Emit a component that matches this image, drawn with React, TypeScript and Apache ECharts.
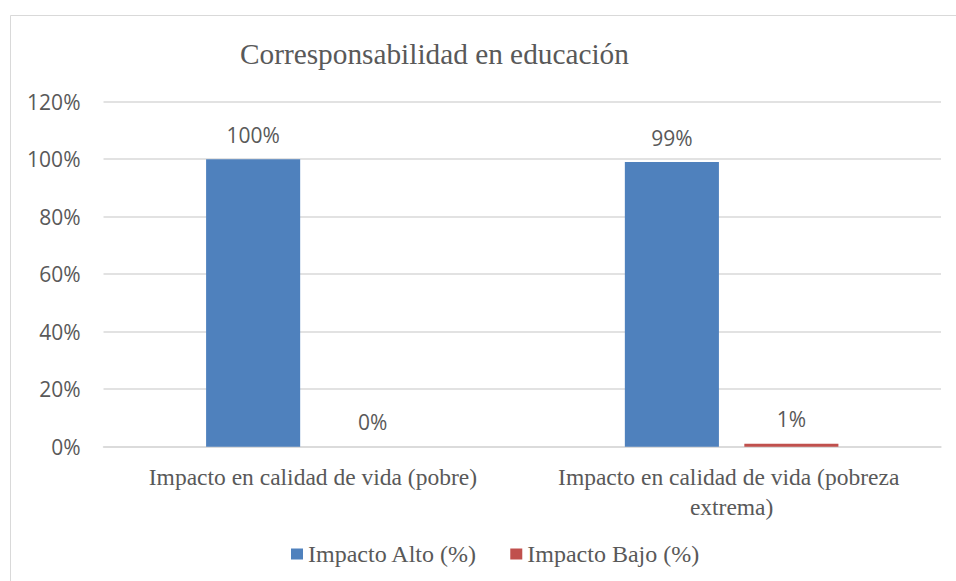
import React, { useEffect, useRef } from "react";
import * as echarts from "echarts";

const categories = [
  "Impacto en calidad de vida (pobre)",
  "Impacto en calidad de vida (pobreza extrema)",
];
const seriesNames = ["Impacto Alto (%)", "Impacto Bajo (%)"];
const altoValues = [1.0, 0.99];
const bajoValues = [0.0, 0.01];
const yTicks = { min: 0, max: 1.2, interval: 0.2 };
const titleText = "Corresponsabilidad en educación";

const SERIF = "'Times New Roman', 'Liberation Serif', 'DejaVu Serif', serif";
const SANS = "'Open Sans', 'Noto Sans', sans-serif";
const TEXT = "#595959";

export default function App() {
  const ref = useRef<HTMLDivElement>(null);
  useEffect(() => {
    document.body.style.margin = "0";
    const chart = echarts.init(ref.current!, null, { renderer: "svg" });
    const pct = (v: number) => Math.round(v * 100) + "%";
    chart.setOption({
      animation: false,
      backgroundColor: "#ffffff",
      title: {
        text: titleText,
        left: 235,
        top: 34,
        textStyle: { fontFamily: SERIF, fontSize: 29.3, fontWeight: "normal", color: TEXT },
      },
      graphic: [
        {
          type: "rect",
          shape: { x: 10.5, y: 15.5, width: 1000, height: 700 },
          style: { fill: "none", stroke: "#D9D9D9", lineWidth: 1 },
          silent: true,
        },
      ],
      legend: {
        top: 537,
        left: 286,
        itemWidth: 12,
        itemHeight: 11,
        itemGap: 33,
        icon: "rect",
        data: seriesNames,
        textStyle: { fontFamily: SERIF, fontSize: 24, color: TEXT },
      },
      grid: { left: 103.5, right: 15, top: 101.7, bottom: 134.3, containLabel: false },
      xAxis: {
        type: "category",
        data: categories,
        axisLine: { show: true, lineStyle: { color: "#D9D9D9", width: 1.5 } },
        axisTick: { show: false },
        axisLabel: {
          fontFamily: SERIF,
          fontSize: 23.5,
          color: TEXT,
          margin: 15,
          lineHeight: 30,
          width: 380,
          overflow: "break",
          interval: 0,
        },
      },
      yAxis: {
        type: "value",
        min: yTicks.min,
        max: yTicks.max,
        interval: yTicks.interval,
        axisLine: { show: false },
        axisTick: { show: false },
        splitLine: { lineStyle: { color: "#D9D9D9", width: 1.5 } },
        axisLabel: {
          formatter: (v: number) => pct(v),
          fontFamily: SANS,
          fontSize: 21,
          color: TEXT,
          margin: 23,
        },
      },
      series: [
        {
          name: seriesNames[0],
          type: "bar",
          data: altoValues,
          barGap: "27%",
          barCategoryGap: "49%",
          itemStyle: { color: "#4F81BD" },
          label: {
            show: true,
            position: "top",
            distance: 14,
            formatter: (p: any) => pct(p.value),
            fontFamily: SANS,
            fontSize: 21,
            color: TEXT,
          },
        },
        {
          name: seriesNames[1],
          type: "bar",
          data: bajoValues,
          barGap: "27%",
          barCategoryGap: "49%",
          itemStyle: { color: "#C0504D" },
          label: {
            show: true,
            position: "top",
            distance: 14,
            formatter: (p: any) => pct(p.value),
            fontFamily: SANS,
            fontSize: 21,
            color: TEXT,
          },
        },
      ],
    });
    return () => chart.dispose();
  }, []);
  return <div ref={ref} style={{ width: 956, height: 581 }} />;
}
